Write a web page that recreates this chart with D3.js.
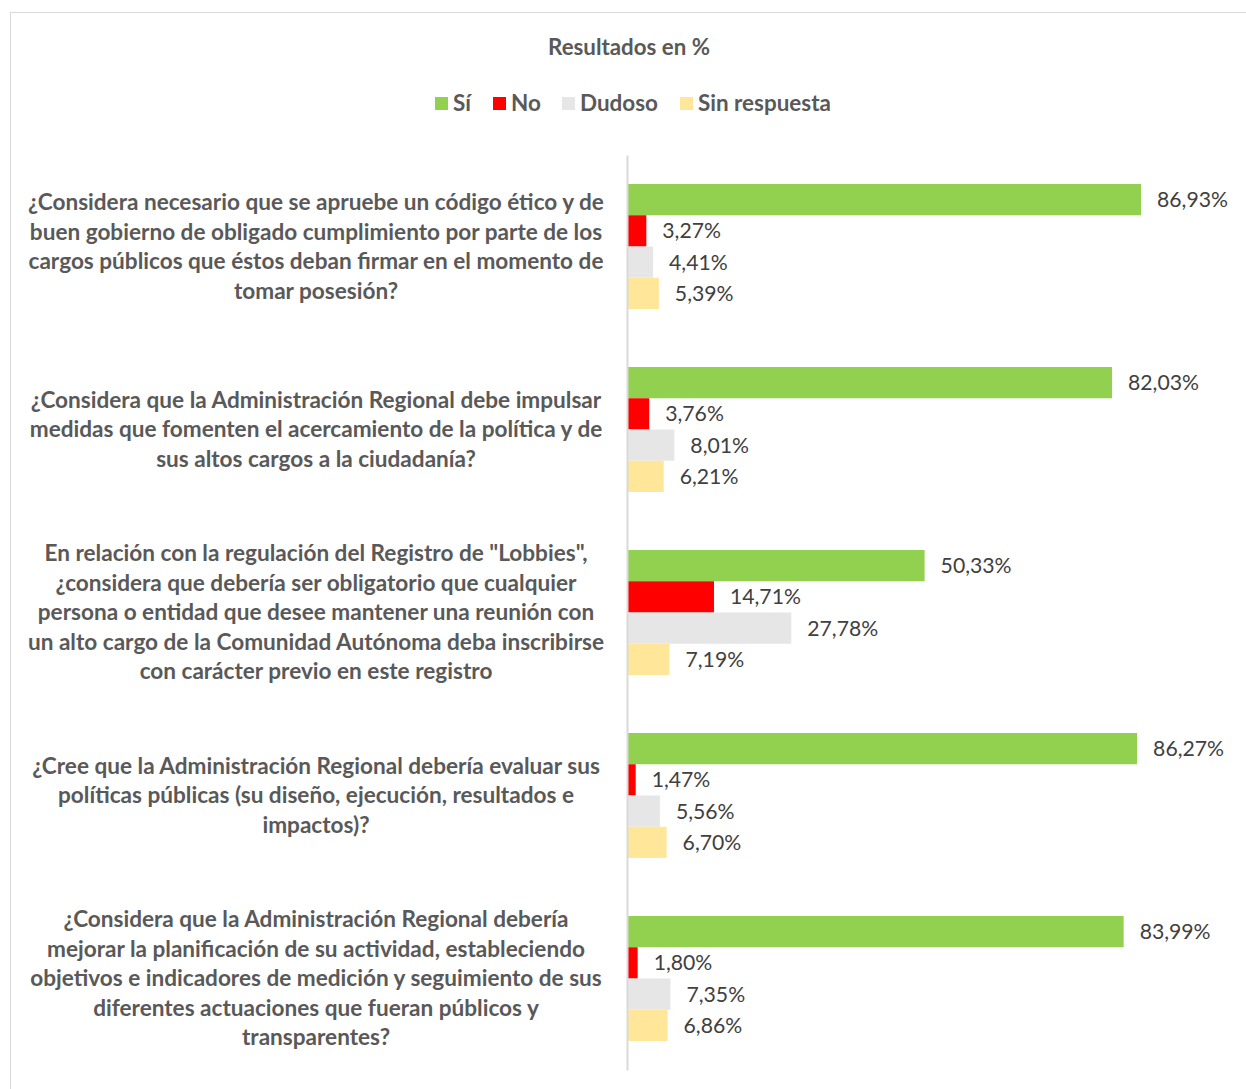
<!DOCTYPE html>
<html>
<head>
<meta charset="utf-8">
<script src="https://cdn.jsdelivr.net/npm/d3@7"></script>
<style>
  html, body { margin: 0; padding: 0; background: #ffffff; }
  svg { display: block; }
</style>
</head>
<body>
<svg id="chart" width="1246" height="1089"></svg>
<script>
// ---------- DATA ----------
const categories = [
  ["¿Considera necesario que se apruebe un código ético y de",
   "buen gobierno de obligado cumplimiento por parte de los",
   "cargos públicos que éstos deban firmar en el momento de",
   "tomar posesión?"],
  ["¿Considera que la Administración Regional debe impulsar",
   "medidas que fomenten el acercamiento de la política y de",
   "sus altos cargos a la ciudadanía?"],
  ["En relación con la regulación del Registro de \"Lobbies\",",
   "¿considera que debería ser obligatorio que cualquier",
   "persona o entidad que desee mantener una reunión con",
   "un alto cargo de la Comunidad Autónoma deba inscribirse",
   "con carácter previo en este registro"],
  ["¿Cree que la Administración Regional debería evaluar sus",
   "políticas públicas (su diseño, ejecución, resultados e",
   "impactos)?"],
  ["¿Considera que la Administración Regional debería",
   "mejorar la planificación de su actividad, estableciendo",
   "objetivos e indicadores de medición y seguimiento de sus",
   "diferentes actuaciones que fueran públicos y",
   "transparentes?"]
];
const seriesNames = ["Sí", "No", "Dudoso", "Sin respuesta"];
const seriesColors = ["#92D050", "#FF0000", "#E6E6E6", "#FFE699"];
const valuesSi = [86.93, 82.03, 50.33, 86.27, 83.99];
const valuesNo = [3.27, 3.76, 14.71, 1.47, 1.80];
const valuesDudoso = [4.41, 8.01, 27.78, 5.56, 7.35];
const valuesSinRespuesta = [5.39, 6.21, 7.19, 6.70, 6.86];
const title = "Resultados en %";

const allValues = [valuesSi, valuesNo, valuesDudoso, valuesSinRespuesta];

// ---------- LAYOUT ----------
const svg = d3.select("#chart");
const FONT = "Lato, 'Open Sans', sans-serif";
const TEXT = "#595959";
const VAL = "#404040";

// frame
svg.append("rect")
  .attr("x", 10.5).attr("y", 12.5)
  .attr("width", 1240).attr("height", 1082)
  .attr("fill", "#fff").attr("stroke", "#D9D9D9").attr("stroke-width", 1);

// helper: font size so that reference string matches target width
function fitSize(str, weight, target, base) {
  const t = svg.append("text").attr("font-family", FONT)
    .attr("font-weight", weight).attr("font-size", base).text(str);
  const w = t.node().getComputedTextLength();
  t.remove();
  return base * target / w;
}
const catSize = fitSize(categories[0][0], "bold", 576, 20);
const valSize = fitSize("86,93%", "normal", 71, 20);
const titleSize = fitSize(title, "bold", 162, 20);
const legSize = fitSize("Sin respuesta", "bold", 133, 20);

const x = d3.scaleLinear().domain([0, 100]).range([627, 627 + 591.3]);
const y0 = d3.scaleBand().domain(d3.range(categories.length))
  .range([155, 1070]).paddingInner(0.317).paddingOuter(0.1585);
const y1 = d3.scaleBand().domain(d3.range(seriesNames.length))
  .range([0, y0.bandwidth()]);

// title
svg.append("text")
  .attr("x", 629).attr("y", 47).attr("dy", "0.35em")
  .attr("text-anchor", "middle")
  .attr("font-family", FONT).attr("font-weight", "bold")
  .attr("font-size", titleSize).attr("fill", TEXT)
  .text(title);

// legend
const legendX = [435, 493, 562, 680];
const leg = svg.append("g");
seriesNames.forEach((s, i) => {
  leg.append("rect").attr("x", legendX[i]).attr("y", 97)
    .attr("width", 13).attr("height", 13).attr("fill", seriesColors[i]);
  leg.append("text").attr("x", legendX[i] + 18).attr("y", 103.5).attr("dy", "0.35em")
    .attr("font-family", FONT).attr("font-weight", "bold")
    .attr("font-size", legSize).attr("fill", TEXT).text(s);
});

// bars
const groups = svg.append("g").selectAll("g")
  .data(categories.map((c, i) => i))
  .join("g")
  .attr("transform", i => `translate(0,${y0(i)})`);

groups.selectAll("rect")
  .data(i => allValues.map((arr, j) => ({ s: j, v: arr[i] })))
  .join("rect")
  .attr("x", x(0))
  .attr("y", d => y1(d.s))
  .attr("width", d => x(d.v) - x(0))
  .attr("height", y1.bandwidth())
  .attr("fill", d => seriesColors[d.s]);

const fmt = v => v.toFixed(2).replace(".", ",") + "%";
groups.selectAll("text.val")
  .data(i => allValues.map((arr, j) => ({ s: j, v: arr[i] })))
  .join("text")
  .attr("class", "val")
  .attr("x", d => x(d.v) + 16)
  .attr("y", d => y1(d.s) + y1.bandwidth() / 2)
  .attr("dy", "0.35em")
  .attr("font-family", FONT).attr("font-size", valSize).attr("fill", VAL)
  .text(d => fmt(d.v));

// axis line
const axis = d3.axisLeft(d3.scaleLinear().range([155, 1070])).ticks(0).tickSize(0).tickFormat("");
svg.append("g").attr("transform", `translate(${x(0)},0)`).call(axis)
  .call(g => g.select(".domain").attr("stroke", "#D9D9D9").attr("stroke-width", 2));

// category labels
const lineH = 29.5;
categories.forEach((lines, i) => {
  const cy = y0(i) + y0.bandwidth() / 2;
  const t = svg.append("text")
    .attr("text-anchor", "middle")
    .attr("font-family", FONT).attr("font-weight", "bold")
    .attr("font-size", catSize).attr("fill", TEXT);
  lines.forEach((ln, k) => {
    t.append("tspan").attr("x", 316)
      .attr("y", cy + (k - (lines.length - 1) / 2) * lineH)
      .attr("dy", "0.35em").text(ln);
  });
});
</script>
</body>
</html>
